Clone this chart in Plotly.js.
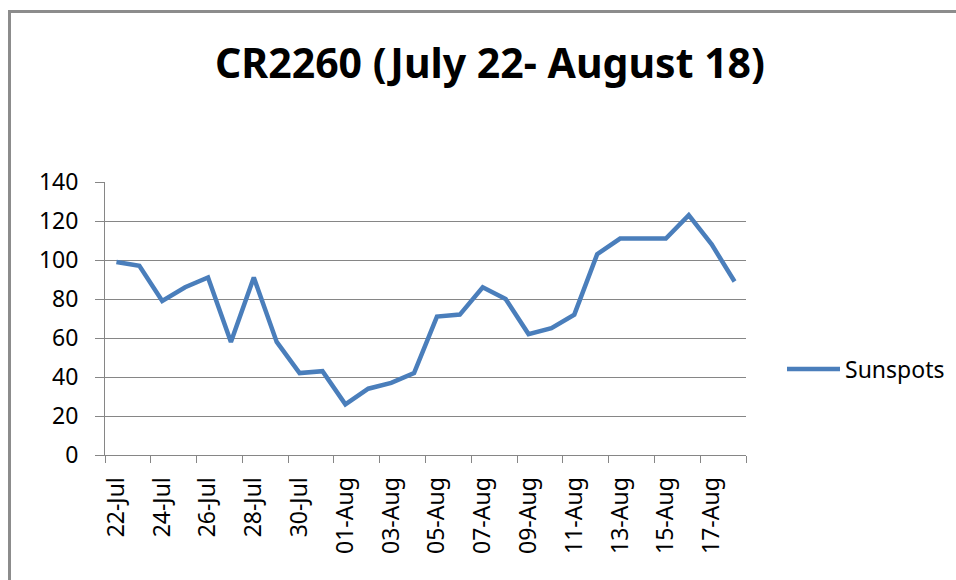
<!DOCTYPE html>
<html>
<head>
<meta charset="utf-8">
<script src="https://cdn.plot.ly/plotly-3.0.1.min.js"></script>
<style>
  html, body { margin: 0; padding: 0; background: #ffffff; }
  #wrap { position: relative; width: 956px; height: 580px; overflow: hidden; }
  #chart { position: absolute; left: 0; top: 0; width: 956px; height: 580px; }
  #frame { position: absolute; left: 8px; top: 10px; width: 1000px; height: 640px;
           border: 3px solid #8c8c8c; pointer-events: none; box-sizing: border-box; }
</style>
</head>
<body>
<div id="wrap">
  <div id="chart"></div>
  <div id="frame"></div>
</div>
<script>
const dates = ["22-Jul","23-Jul","24-Jul","25-Jul","26-Jul","27-Jul","28-Jul","29-Jul","30-Jul","31-Jul",
  "01-Aug","02-Aug","03-Aug","04-Aug","05-Aug","06-Aug","07-Aug","08-Aug","09-Aug","10-Aug",
  "11-Aug","12-Aug","13-Aug","14-Aug","15-Aug","16-Aug","17-Aug","18-Aug"];
const sunspots = [99, 97, 79, 86, 91, 58, 91, 58, 42, 43,
  26, 34, 37, 42, 71, 72, 86, 80, 62, 65,
  72, 103, 111, 111, 111, 123, 108, 89];
const seriesName = "Sunspots";
const chartTitle = "CR2260 (July 22- August 18)";
const yTicks = [0, 20, 40, 60, 80, 100, 120, 140];

const font = "Noto Sans, DejaVu Sans, sans-serif";
const axisGray = "#868686";

const trace = {
  type: "scatter",
  mode: "lines",
  x: dates,
  y: sunspots,
  name: seriesName,
  line: { color: "#4a7ebb", width: 4.5 },
  showlegend: true
};

const layout = {
  width: 956,
  height: 580,
  margin: { l: 105, r: 210, t: 182, b: 125, pad: 0, autoexpand: false },
  paper_bgcolor: "#ffffff",
  plot_bgcolor: "#ffffff",
  font: { family: font, size: 23, color: "#000000" },
  title: {
    text: "<b>" + chartTitle + "</b>",
    font: { family: font, size: 41, color: "#000000" },
    x: 490 / 956,
    xref: "container",
    xanchor: "center",
    y: 1 - 64 / 580,
    yref: "container",
    yanchor: "middle"
  },
  xaxis: {
    type: "category",
    range: [-0.5, dates.length - 0.5],
    tickmode: "linear",
    tick0: 0,
    dtick: 2,
    tickson: "boundaries",
    ticks: "outside",
    ticklen: 7,
    tickwidth: 1,
    tickcolor: axisGray,
    tickangle: -90,
    tickfont: { family: font, size: 23, color: "#000000" },
    ticklabelstandoff: 12,
    showgrid: false,
    showline: true,
    linecolor: axisGray,
    linewidth: 1,
    zeroline: false,
    fixedrange: true
  },
  yaxis: {
    range: [0, 140],
    tickmode: "array",
    tickvals: yTicks,
    ticktext: yTicks.map(String),
    ticks: "outside",
    ticklen: 9,
    tickwidth: 1,
    tickcolor: axisGray,
    tickfont: { family: font, size: 23, color: "#000000" },
    ticklabelstandoff: 12,
    showgrid: true,
    gridcolor: axisGray,
    gridwidth: 1,
    showline: true,
    linecolor: axisGray,
    linewidth: 1,
    zeroline: false,
    fixedrange: true
  },
  showlegend: true,
  legend: {
    x: (782 - 105) / 641,
    xanchor: "left",
    y: (455 - 369) / 273,
    yanchor: "middle",
    itemwidth: 53,
    bgcolor: "rgba(0,0,0,0)",
    font: { family: font, size: 23, color: "#000000" }
  }
};

Plotly.newPlot("chart", [trace], layout, { displayModeBar: false, staticPlot: true });
</script>
</body>
</html>
